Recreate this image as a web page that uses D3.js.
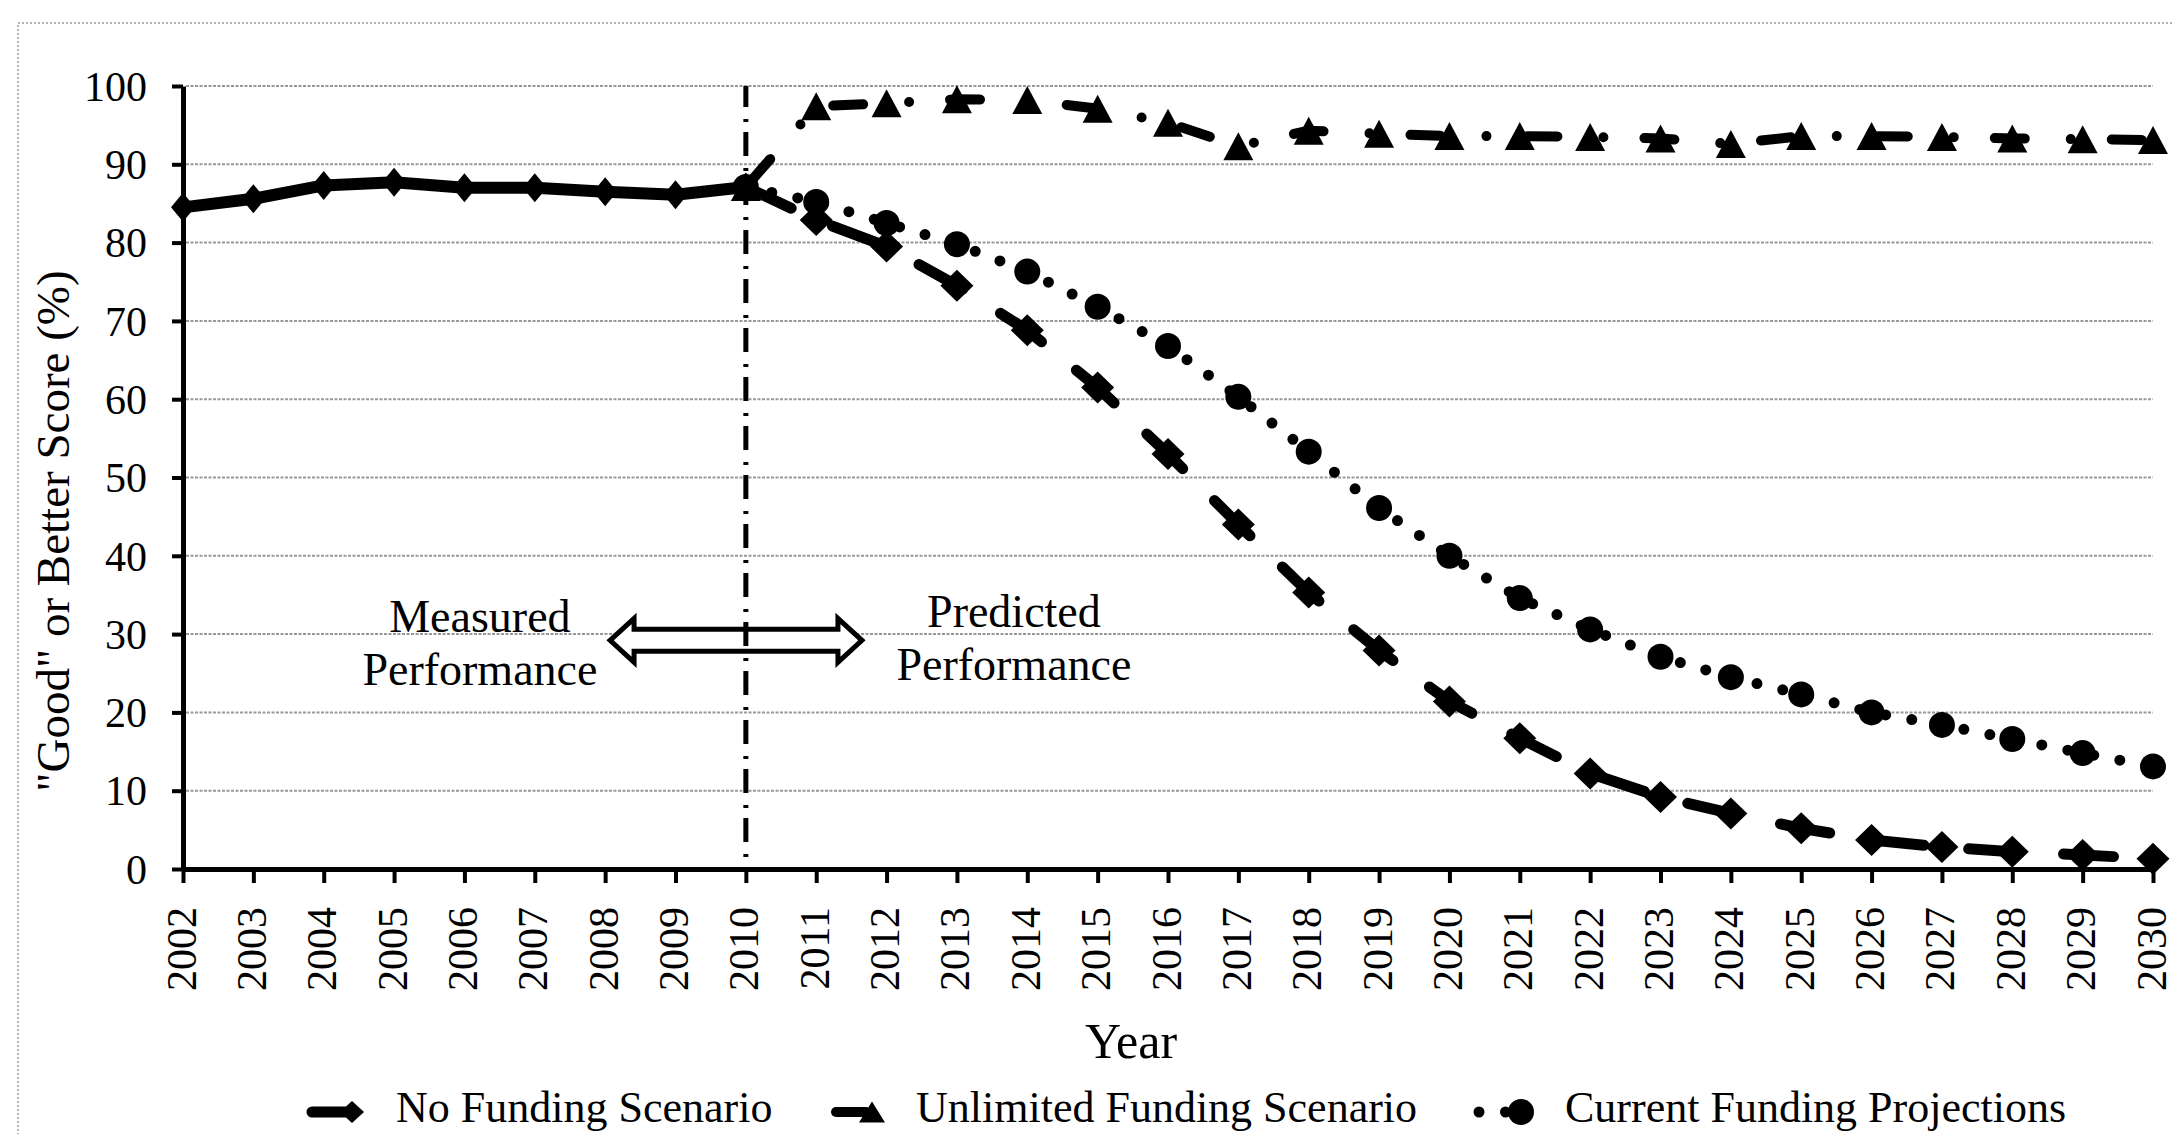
<!DOCTYPE html>
<html>
<head>
<meta charset="utf-8">
<script src="https://cdn.jsdelivr.net/npm/d3@7"></script>
<style>
  html, body { margin: 0; padding: 0; background: #fff; }
  svg { display: block; }
  text { font-family: "Liberation Serif", "Times New Roman", serif; fill: #000; }
</style>
</head>
<body>
<svg id="chart" width="2173" height="1134"></svg>
<script>
// ---------------- data ----------------
const years = d3.range(2002, 2031);
const yTicks = [0, 10, 20, 30, 40, 50, 60, 70, 80, 90, 100];

const measuredYears = [2002, 2003, 2004, 2005, 2006, 2007, 2008, 2009, 2010];
const measured = [84.5, 85.6, 87.3, 87.7, 87.0, 87.0, 86.5, 86.1, 87.1];

const projYears = d3.range(2010, 2031);
const noFunding = [87.1, 82.9, 79.5, 74.5, 68.8, 61.5, 53.0, 44.0, 35.3, 27.9, 21.4,
                   16.7, 12.2, 9.2, 7.1, 5.2, 3.7, 2.8, 2.2, 1.8, 1.3];
const unlimited = [87.1, 97.4, 97.8, 98.3, 98.2, 97.1, 95.3, 92.3, 94.3, 93.9, 93.6,
                   93.6, 93.5, 93.3, 92.6, 93.6, 93.6, 93.5, 93.3, 93.2, 93.1];
const current = [87.1, 85.2, 82.5, 79.8, 76.3, 71.8, 66.8, 60.3, 53.3, 46.1, 40.0,
                 34.6, 30.6, 27.1, 24.5, 22.3, 20.0, 18.4, 16.6, 14.8, 13.1];

const seriesNames = ["No Funding Scenario", "Unlimited Funding Scenario", "Current Funding Projections"];
const yTitle = "\"Good\" or Better Score (%)";
const xTitle = "Year";
const splitYear = 2010;
const annotLeft = ["Measured", "Performance"];
const annotRight = ["Predicted", "Performance"];

// ---------------- layout ----------------
const svg = d3.select("#chart");
const x = d3.scaleLinear().domain([2002, 2030]).range([183, 2153]);
const y = d3.scaleLinear().domain([0, 100]).range([869, 86]);

// outer dotted frame
svg.append("rect")
  .attr("x", 18).attr("y", 23).attr("width", 2400).attr("height", 1300)
  .attr("fill", "none").attr("stroke", "#9a9a9a").attr("stroke-width", 1.5)
  .attr("stroke-dasharray", "2,2");

// gridlines
svg.append("g").selectAll("line").data(yTicks.filter(d => d > 0)).join("line")
  .attr("x1", x(2002) + 3).attr("x2", x(2030))
  .attr("y1", d => y(d)).attr("y2", d => y(d))
  .attr("stroke", "#999").attr("stroke-width", 2).attr("stroke-dasharray", "3,1.5");

// double arrow (hollow)
const aL = x(2008.07), aR = x(2011.65), aY = y(29.2);
const headLen = 24, shaftH = 11, headH = 22;
const arrowPts = [
  [aL, aY], [aL + headLen, aY - headH], [aL + headLen, aY - shaftH],
  [aR - headLen, aY - shaftH], [aR - headLen, aY - headH], [aR, aY],
  [aR - headLen, aY + headH], [aR - headLen, aY + shaftH],
  [aL + headLen, aY + shaftH], [aL + headLen, aY + headH]
];
svg.append("polygon")
  .attr("points", arrowPts.map(p => p.join(",")).join(" "))
  .attr("fill", "#fff").attr("stroke", "#000").attr("stroke-width", 5)
  .attr("stroke-linejoin", "miter");

// vertical dash-dot separator
svg.append("line")
  .attr("x1", x(splitYear)).attr("x2", x(splitYear))
  .attr("y1", y(100)).attr("y2", y(0))
  .attr("stroke", "#000").attr("stroke-width", 5)
  .attr("stroke-dasharray", "24,12,3,10").attr("stroke-dashoffset", 3);

// annotation texts
function annot(lines, cx, baselines) {
  lines.forEach((t, i) => {
    svg.append("text").attr("x", cx).attr("y", baselines[i])
      .attr("text-anchor", "middle").style("font-size", "46px").text(t);
  });
}
annot(annotLeft, x(2006.22), [632, 685]);
annot(annotRight, x(2013.81), [627, 680]);

// axes
const yAxis = svg.append("g").attr("transform", `translate(${x(2002)},0)`)
  .call(d3.axisLeft(y).tickValues(yTicks).tickSize(11).tickSizeOuter(0).tickPadding(25));
yAxis.attr("font-family", null).attr("font-size", null);
yAxis.select(".domain").attr("stroke", "#000").attr("stroke-width", 5);
yAxis.selectAll(".tick line").attr("stroke", "#000").attr("stroke-width", 4);
yAxis.selectAll(".tick text").style("font-size", "42px").attr("dy", "0.34em");

const xAxis = svg.append("g").attr("transform", `translate(0,${y(0)})`)
  .call(d3.axisBottom(x).tickValues(years).tickFormat(d3.format("d"))
    .tickSize(14).tickSizeOuter(0));
xAxis.attr("font-family", null).attr("font-size", null);
xAxis.select(".domain").attr("stroke", "#000").attr("stroke-width", 5);
xAxis.selectAll(".tick line").attr("stroke", "#000").attr("stroke-width", 4);
xAxis.selectAll(".tick text").style("font-size", "42px")
  .attr("transform", "rotate(-90)").attr("x", -38).attr("y", 12).attr("dy", 0)
  .style("text-anchor", "end");
svg.selectAll(".tick text").style("font-family", "'Liberation Serif', serif");

// axis titles
svg.append("text").attr("transform", "translate(69,531) rotate(-90)")
  .attr("text-anchor", "middle").style("font-size", "47px").text(yTitle);
svg.append("text").attr("x", 1131).attr("y", 1058)
  .attr("text-anchor", "middle").style("font-size", "50px").text(xTitle);

// ---------------- series ----------------
const line = d3.line().x(d => x(d[0])).y(d => y(d[1]));
const zip = (xs, vs) => xs.map((v, i) => [v, vs[i]]);

const diamond = (cx, cy, w, h) => `M${cx},${cy - h / 2}L${cx + w / 2},${cy}L${cx},${cy + h / 2}L${cx - w / 2},${cy}Z`;
const triangle = (cx, cy, w, h) => `M${cx},${cy - h / 2}L${cx + w / 2},${cy + h / 2}L${cx - w / 2},${cy + h / 2}Z`;

const gSeries = svg.append("g");

// lines
gSeries.append("path").datum(zip(measuredYears, measured)).attr("d", line)
  .attr("fill", "none").attr("stroke", "#000").attr("stroke-width", 12)
  .attr("stroke-linejoin", "round");
gSeries.append("path").datum(zip(projYears, noFunding)).attr("d", line)
  .attr("fill", "none").attr("stroke", "#000").attr("stroke-width", 11)
  .attr("stroke-dasharray", "50,45").attr("stroke-linecap", "round").attr("stroke-linejoin", "round");
gSeries.append("path").datum(zip(projYears, unlimited)).attr("d", line)
  .attr("fill", "none").attr("stroke", "#000").attr("stroke-width", 10)
  .attr("stroke-dasharray", "30,46,0,41").attr("stroke-dashoffset", 110)
  .attr("stroke-linecap", "round").attr("stroke-linejoin", "round");
gSeries.append("path").datum(zip(projYears, current)).attr("d", line)
  .attr("fill", "none").attr("stroke", "#000").attr("stroke-width", 11)
  .attr("stroke-dasharray", "0,26.5").attr("stroke-linecap", "round");

// markers
gSeries.append("g").selectAll("path").data(zip(measuredYears, measured)).join("path")
  .attr("d", d => diamond(x(d[0]), y(d[1]), 24, 29)).attr("fill", "#000");
gSeries.append("g").selectAll("path").data(zip(projYears, noFunding).slice(1)).join("path")
  .attr("d", d => diamond(x(d[0]), y(d[1]), 33, 32)).attr("fill", "#000");
gSeries.append("g").selectAll("path").data(zip(projYears, unlimited)).join("path")
  .attr("d", d => triangle(x(d[0]), y(d[1]), 30, 28)).attr("fill", "#000");
gSeries.append("g").selectAll("circle").data(zip(projYears, current)).join("circle")
  .attr("cx", d => x(d[0])).attr("cy", d => y(d[1])).attr("r", 13).attr("fill", "#000");

// ---------------- legend ----------------
const legY = 1112, legBase = 1122;
const leg = svg.append("g");
// No Funding
leg.append("line").attr("x1", 312).attr("x2", 350).attr("y1", legY).attr("y2", legY)
  .attr("stroke", "#000").attr("stroke-width", 11).attr("stroke-linecap", "round");
leg.append("path").attr("d", diamond(352, legY, 24, 22)).attr("fill", "#000");
leg.append("text").attr("x", 396).attr("y", legBase).style("font-size", "44px").text(seriesNames[0]);
// Unlimited
leg.append("line").attr("x1", 836).attr("x2", 866).attr("y1", legY).attr("y2", legY)
  .attr("stroke", "#000").attr("stroke-width", 10).attr("stroke-linecap", "round");
leg.append("path").attr("d", triangle(872, legY, 26, 21)).attr("fill", "#000");
leg.append("text").attr("x", 916).attr("y", legBase).style("font-size", "44px").text(seriesNames[1]);
// Current
leg.append("line").attr("x1", 1479).attr("x2", 1520).attr("y1", legY).attr("y2", legY)
  .attr("stroke", "#000").attr("stroke-width", 11).attr("stroke-linecap", "round")
  .attr("stroke-dasharray", "0,26.5");
leg.append("circle").attr("cx", 1521).attr("cy", legY).attr("r", 13).attr("fill", "#000");
leg.append("text").attr("x", 1565).attr("y", legBase).style("font-size", "44px").text(seriesNames[2]);
</script>
</body>
</html>
